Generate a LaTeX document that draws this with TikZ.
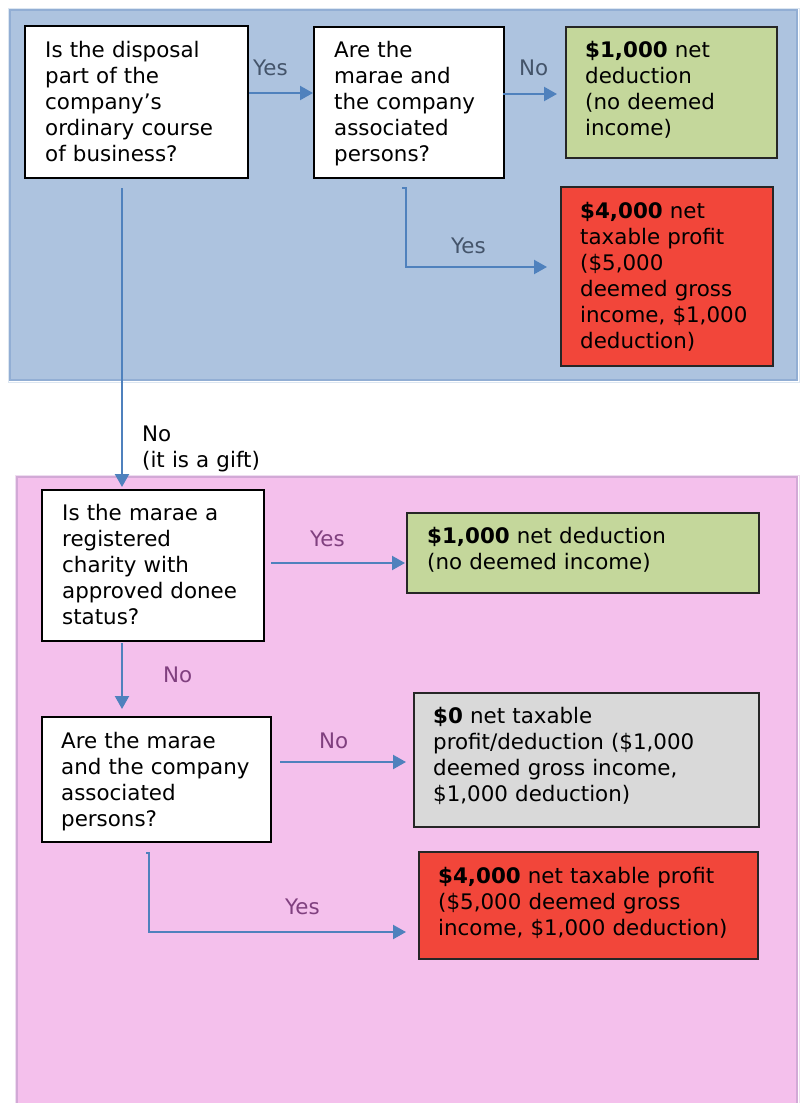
\documentclass[tikz,border=0pt]{standalone}
\usepackage{fontspec}
\setmainfont{DejaVu Sans}
\usetikzlibrary{arrows.meta,calc}
\definecolor{panelblue}{HTML}{ADC3DF}
\definecolor{panelblueb}{HTML}{92AED4}
\definecolor{panelbluec}{HTML}{DCE6F1}
\definecolor{panelpink}{HTML}{F4C0EC}
\definecolor{panelpinkb}{HTML}{D2A9D6}
\definecolor{panelpinkc}{HTML}{EEDDF0}
\definecolor{okgreen}{HTML}{C4D79B}
\definecolor{badred}{HTML}{F2463A}
\definecolor{neutralgray}{HTML}{D9D9D9}
\definecolor{arrowblue}{HTML}{4F81BD}
\definecolor{lblblue}{HTML}{44546A}
\definecolor{lblpurple}{HTML}{80407F}
\begin{document}
\begin{tikzpicture}[x=1pt,y=-1pt,
  every node/.style={font=\fontsize{21.4}{26}\selectfont},
  qbox/.style={draw=black,line width=2pt,fill=white,anchor=north west,inner sep=0pt},
  rbox/.style={draw=black!85,line width=1.5pt,anchor=north west,inner sep=0pt},
  txt/.style={anchor=base west,align=left,inner sep=0pt,text width=340pt},
  lbl/.style={anchor=base west,inner sep=0pt},
  arr/.style={draw=arrowblue,line width=2.2pt,-{Triangle[length=13pt,width=14pt]}}
]
\useasboundingbox (0,0) rectangle (802,1103);
\clip (0,0) rectangle (802,1103);
% panels
\draw[panelbluec,line width=1pt] (8,8) rectangle (799,382);
\draw[panelblueb,line width=2.5pt,fill=panelblue] (10,10) rectangle (797,380);
\draw[panelpinkc,line width=1pt] (15,475) rectangle (799,1115);
\draw[panelpinkb,line width=2.5pt,fill=panelpink] (17,477) rectangle (797,1112);

% boxes
\node[qbox,minimum width=223pt,minimum height=152pt] (A) at (24,25) {};
\node[qbox,minimum width=190pt,minimum height=151pt] (B) at (313,26) {};
\node[rbox,fill=okgreen,minimum width=211pt,minimum height=131pt] (G1) at (565,26) {};
\node[rbox,fill=badred,minimum width=212pt,minimum height=179pt] (R1) at (560,186) {};
\node[qbox,minimum width=222pt,minimum height=151pt] (C) at (41,489) {};
\node[rbox,fill=okgreen,minimum width=352pt,minimum height=80pt] (G2) at (406,512) {};
\node[qbox,minimum width=229pt,minimum height=125pt] (D) at (41,716) {};
\node[rbox,fill=neutralgray,minimum width=345pt,minimum height=134pt] (Gy) at (413,692) {};
\node[rbox,fill=badred,minimum width=339pt,minimum height=107pt] (R2) at (418,851) {};

% texts
\node[txt] (tA) at ($(A.north west)+(21,32)$) {Is the disposal\\part of the\\company’s\\ordinary course\\of business?};
\node[txt] (tB) at ($(B.north west)+(21,31)$) {Are the\\marae and\\the company\\associated\\persons?};
\node[txt] (tG1) at ($(G1.north west)+(20,31)$) {\textbf{\$1,000} net\\deduction\\(no deemed\\income)};
\node[txt] (tR1) at ($(R1.north west)+(20,32)$) {\textbf{\$4,000} net\\taxable profit\\(\$5,000\\deemed gross\\income, \$1,000\\deduction)};
\node[txt] (tC) at ($(C.north west)+(21,31)$) {Is the marae a\\registered\\charity with\\approved donee\\status?};
\node[txt] (tG2) at ($(G2.north west)+(21,31)$) {\textbf{\$1,000} net deduction\\(no deemed income)};
\node[txt] (tD) at ($(D.north west)+(20,32)$) {Are the marae\\and the company\\associated\\persons?};
\node[txt] (tGy) at ($(Gy.north west)+(20,31)$) {\textbf{\$0} net taxable\\profit/deduction (\$1,000\\deemed gross income,\\\$1,000 deduction)};
\node[txt] (tR2) at ($(R2.north west)+(20,32)$) {\textbf{\$4,000} net taxable profit\\(\$5,000 deemed gross\\income, \$1,000 deduction)};

% connectors
\draw[arr] ($(A.north east)+(0,68)$) -- ($(B.north west)+(0,67)$);
\draw[arr] ($(B.north east)+(-2,68)$) -- ($(G1.north west)+(-8,68)$);
\draw[arr] ($(B.south west)+(89,9)$) -- ++(4,0) |- ($(R1.north west)+(-13,81)$);
\draw[arr] ($(A.south west)+(98,9)$) -- ($(C.north west)+(81,-2)$);
\draw[arr] ($(C.north east)+(6,74)$) -- ($(G2.north west)+(-1,51)$);
\draw[arr] ($(C.south west)+(81,1)$) -- ($(D.north west)+(81,-7)$);
\draw[arr] ($(D.north east)+(8,46)$) -- ($(Gy.north west)+(-7,70)$);
\draw[arr] ($(D.south west)+(105,10)$) -- ++(3,0) |- ($(R2.north west)+(-12,81)$);

% labels
\node[lbl,text=lblblue] (l1) at (253,75) {Yes};
\node[lbl,text=lblblue] (l2) at (519,75) {No};
\node[lbl,text=lblblue] (l3) at (451,253) {Yes};
\node[lbl,align=left,anchor=base west,text width=200pt] (l4) at (142,441) {No\\(it is a gift)};
\node[lbl,text=lblpurple] (l5) at (310,546) {Yes};
\node[lbl,text=lblpurple] (l6) at (163,682) {No};
\node[lbl,text=lblpurple] (l7) at (319,748) {No};
\node[lbl,text=lblpurple] (l8) at (285,914) {Yes};
\end{tikzpicture}
\end{document}
